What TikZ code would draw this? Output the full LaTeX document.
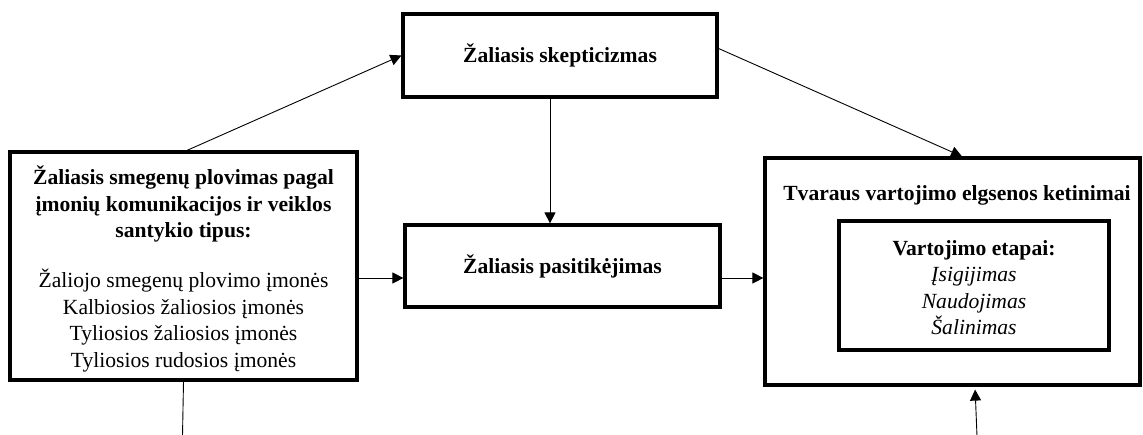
\documentclass[tikz,border=0pt]{standalone}
\usepackage{fontspec}
\setmainfont{Liberation Serif}
\usetikzlibrary{arrows.meta,calc}

\tikzset{
  box/.style={draw, line width=3.2pt, inner sep=0pt, align=center,
    font=\fontsize{21.6pt}{26.5pt}\selectfont},
  plain/.style={inner sep=0pt, align=center,
    font=\fontsize{21.6pt}{26.5pt}\selectfont},
  link/.style={line width=0.9pt, -{Triangle[length=11pt,width=11pt]}},
  bare/.style={line width=0.9pt}
}

\begin{document}
\begin{tikzpicture}[x=1pt,y=-1pt]
\useasboundingbox (0,0) rectangle (1143,434);

% boxes
\node[box, minimum width=347pt, minimum height=228pt] (left) at (183.5,266) {};
\node[plain] (ltext) at (183.5,269)
  {\textbf{Žaliasis smegenų plovimas pagal}\\
   \textbf{įmonių komunikacijos ir veiklos}\\
   \textbf{santykio tipus:}\\[23.5pt]
   Žaliojo smegenų plovimo įmonės\\
   Kalbiosios žaliosios įmonės\\
   Tyliosios žaliosios įmonės\\
   Tyliosios rudosios įmonės};

\node[box, minimum width=314pt, minimum height=83pt] (top) at (560,55.5)
  {\textbf{Žaliasis skepticizmas}};

\node[box, minimum width=315pt, minimum height=82pt] (mid) at (562.5,266)
  {\textbf{Žaliasis pasitikėjimas}};

\node[box, minimum width=375pt, minimum height=227pt] (right) at (952.5,271.5) {};
\node[plain] (rtitle) at (957,195)
  {\textbf{Tvaraus vartojimo elgsenos ketinimai}};

\node[box, minimum width=270pt, minimum height=129pt] (inner) at (974,285.5) {};
\node[plain] (itext) at (974,287.5)
  {\textbf{Vartojimo etapai:}\\
   \textit{Įsigijimas}\\
   \textit{Naudojimas}\\
   \textit{Šalinimas}};

% free ends below the picture edge
\coordinate (lb) at (182.5,436);
\coordinate (rb) at (977,436);

% connectors
\draw[link] ([xshift=3.5pt]left.north) -- (top.west);
\draw[link] ([yshift=7pt]top.east) -- ([xshift=9.5pt]right.north);
\draw[link] ([xshift=-10pt]top.south) -- ([xshift=-10pt]top.south |- mid.north);
\draw[link] ([yshift=-12pt]left.east) -- ([yshift=-12pt]left.east -| mid.west);
\draw[link] ([yshift=-12pt]mid.east) -- ([yshift=-12pt]mid.east -| right.west);
\draw[bare] (left.south) -- (lb);
\draw[link, shorten >=3pt] (rb) -- ([xshift=22.5pt]right.south);
\end{tikzpicture}
\end{document}
